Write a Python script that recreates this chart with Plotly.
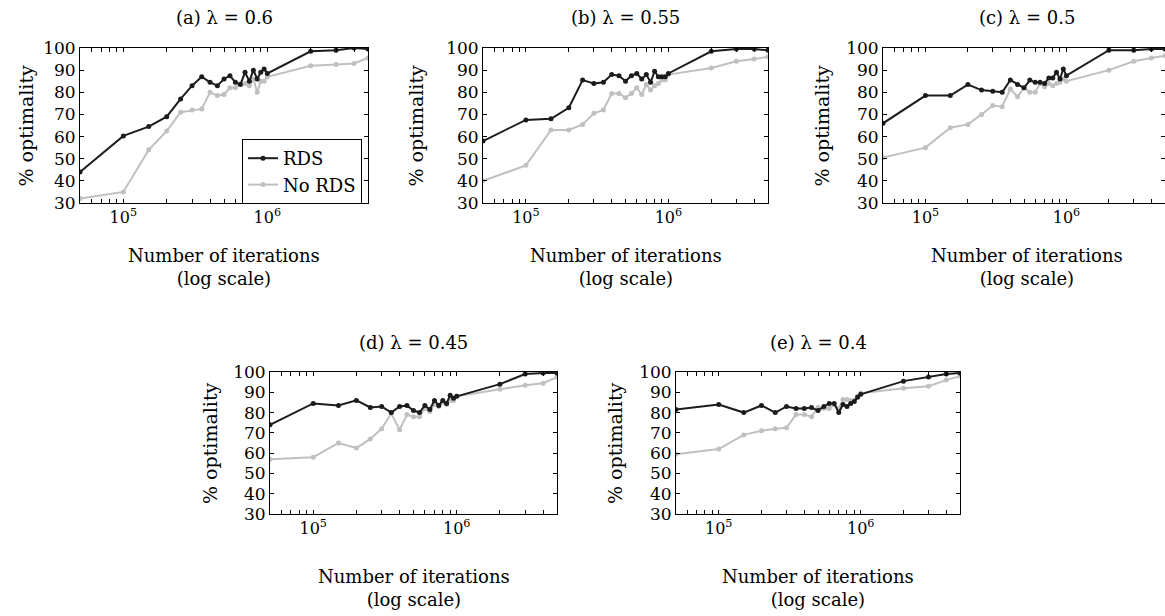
import plotly.graph_objects as go
import math

# ---- data ----
iterations = [5e4, 1e5, 1.5e5, 2e5, 2.5e5, 3e5, 3.5e5, 4e5, 4.5e5, 5e5, 5.5e5, 6e5,
              6.5e5, 7e5, 7.5e5, 8e5, 8.5e5, 9e5, 9.5e5, 1e6, 2e6, 3e6, 4e6, 5e6]

panel_titles = ["(a) λ = 0.6", "(b) λ = 0.55", "(c) λ = 0.5", "(d) λ = 0.45", "(e) λ = 0.4"]

rds_a = [44, 60.3, 64.5, 69, 77, 83, 87, 84.5, 83, 86, 87.5, 84.5, 83.5, 89, 85, 90, 86, 89, 90.5, 88.5, 98.5, 99, 100, 99.5]
nords_a = [32, 35, 54, 62.5, 71, 72, 72.5, 80, 78.5, 79, 82, 82, 84, 84, 83, 86, 80, 85, 85, 87, 92, 92.5, 93, 95.5]

rds_b = [58, 67.5, 68, 73, 85.5, 84, 84.5, 88, 87.5, 85, 87.5, 88.5, 86, 88, 84.5, 89.5, 87, 87, 87, 88.5, 98.5, 99.5, 99.5, 99]
nords_b = [40, 47, 63, 63, 65.5, 70.5, 72, 79.5, 79.5, 77.5, 79.5, 82, 79, 83.5, 81, 83, 84, 85.5, 85.5, 88, 91, 94, 95, 96]

rds_c = [66, 78.5, 78.5, 83.5, 81, 80.5, 80, 85.5, 83.5, 82, 85.5, 84.5, 84.5, 84, 86.5, 86.5, 89, 86, 90.5, 87.5, 99, 99, 99.5, 99.5]
nords_c = [50.5, 55, 64, 65.5, 70, 74, 73.5, 81.5, 78, 82, 80, 80, 84, 82.5, 84, 83, 84, 84.5, 86, 85, 90, 94, 95.5, 96.5]

rds_d = [74, 84.5, 83.5, 86, 82.5, 83, 80, 83, 83.5, 81, 80, 83.5, 81.5, 86, 83.5, 86, 84.5, 88.5, 87, 88, 94, 99, 99.5, 99.5]
nords_d = [57, 58, 65, 62.5, 67, 72, 79.5, 71.5, 79, 78, 78, 82, 80.5, 84, 83, 85, 84, 86, 86, 88, 91.5, 93.5, 94.5, 97.5]

rds_e = [81.5, 84, 80, 83.5, 80, 83, 82, 82, 82.5, 81, 83, 84.5, 84.5, 80, 84, 83, 84.5, 85.5, 87.5, 89, 95.5, 97.5, 99, 99.5]
nords_e = [59.5, 62, 69, 71, 72, 72.5, 79, 79, 78, 82.5, 82, 82, 84, 82, 86.5, 86.5, 86, 86, 88, 89.5, 92, 93, 96, 98]

rds_series = [rds_a, rds_b, rds_c, rds_d, rds_e]
nords_series = [nords_a, nords_b, nords_c, nords_d, nords_e]

y_ticks = [30, 40, 50, 60, 70, 80, 90, 100]
x_major = [1e5, 1e6]
x_major_text = ["10<sup>5</sup>", "10<sup>6</sup>"]
x_range = [5e4, 5e6]
y_range = [30, 100]

# ---- layout geometry (pixels) ----
W, H = 1165, 616
# (left, right, top, bottom) of each plot area
boxes = [(80, 368, 48, 203), (483, 768, 48, 203), (883, 1165, 48, 203),
         (270, 557, 372, 514), (676, 960, 372, 514)]
ytitle_x = [25, 415, 821, 210, 615]
title_gap = [31, 31, 31, 29, 29]
xtitle_gap = [64, 64, 64, 74, 74]

FONT = "DejaVu Serif"
BLACK = "#1c1c1c"
GREY = "#c0c0c0"

fig = go.Figure()

# log tick positions (labels only at decades)
x_tickvals = []
for d in range(4, 7):
    for m in range(1, 10):
        v = m * 10 ** d
        if x_range[0] <= v <= x_range[1]:
            x_tickvals.append(v)
x_ticktext = [x_major_text[x_major.index(v)] if v in x_major else "" for v in x_tickvals]

annotations = []
for i, (l, r, t, b) in enumerate(boxes):
    n = "" if i == 0 else str(i + 1)
    xa, ya = "x" + n, "y" + n
    fig.add_trace(go.Scatter(x=iterations, y=nords_series[i], mode="lines+markers",
                             name="No RDS", line=dict(color=GREY, width=2),
                             marker=dict(color=GREY, size=5), xaxis=xa, yaxis=ya,
                             showlegend=(i == 0), legendrank=2))
    fig.add_trace(go.Scatter(x=iterations, y=rds_series[i], mode="lines+markers",
                             name="RDS", line=dict(color=BLACK, width=2),
                             marker=dict(color=BLACK, size=5), xaxis=xa, yaxis=ya,
                             showlegend=(i == 0), legendrank=1))
    xdom = [l / W, min(r / W, 1.0)]
    ydom = [1 - b / H, 1 - t / H]
    fig.layout["xaxis" + n] = dict(
        domain=xdom, type="log", range=[math.log10(x_range[0]), math.log10(x_range[1])],
        tickvals=x_tickvals, ticktext=x_ticktext, ticks="inside", ticklen=4,
        tickcolor="black", showline=True, linecolor="black", linewidth=1, mirror="ticks",
        showgrid=False, zeroline=False, anchor=ya, automargin=False,
        tickfont=dict(family=FONT, size=16, color="black"))
    fig.layout["yaxis" + n] = dict(
        domain=ydom, range=y_range, tickvals=y_ticks, ticks="inside", ticklen=4,
        tickcolor="black", showline=True, linecolor="black", linewidth=1, mirror="ticks",
        showgrid=False, zeroline=False, anchor=xa, automargin=False,
        tickfont=dict(family=FONT, size=17, color="black"))
    cx = (l + r) / 2 if i != 2 else (883 + 1171) / 2
    annotations.append(dict(text=panel_titles[i], x=cx / W, y=1 - (t - title_gap[i]) / H,
                            xref="paper", yref="paper", showarrow=False,
                            xanchor="center", yanchor="middle",
                            font=dict(family=FONT, size=18, color="black")))
    annotations.append(dict(text="% optimality", x=ytitle_x[i] / W, y=1 - ((t + b) / 2) / H,
                            xref="paper", yref="paper", showarrow=False, textangle=-90,
                            xanchor="center", yanchor="middle",
                            font=dict(family=FONT, size=19, color="black")))
    annotations.append(dict(text="Number of iterations<br>(log scale)", x=cx / W,
                            y=1 - (b + xtitle_gap[i]) / H, xref="paper", yref="paper",
                            showarrow=False, xanchor="center", yanchor="middle",
                            font=dict(family=FONT, size=18, color="black")))

fig.update_layout(
    template="none",
    width=W, height=H, autosize=False, margin=dict(l=0, r=0, t=0, b=0, pad=0),
    paper_bgcolor="white", plot_bgcolor="white",
    annotations=annotations,
    showlegend=True,
    legend=dict(x=242 / W, y=1 - 139 / H, xanchor="left", yanchor="top",
                bgcolor="white", bordercolor="black", borderwidth=1,
                font=dict(family=FONT, size=18, color="black"),
                tracegroupgap=0, itemwidth=30),
)

fig.write_html("out.html", config={"displayModeBar": False},
               post_script="document.body.style.margin='0px';document.body.style.overflow='hidden';")
